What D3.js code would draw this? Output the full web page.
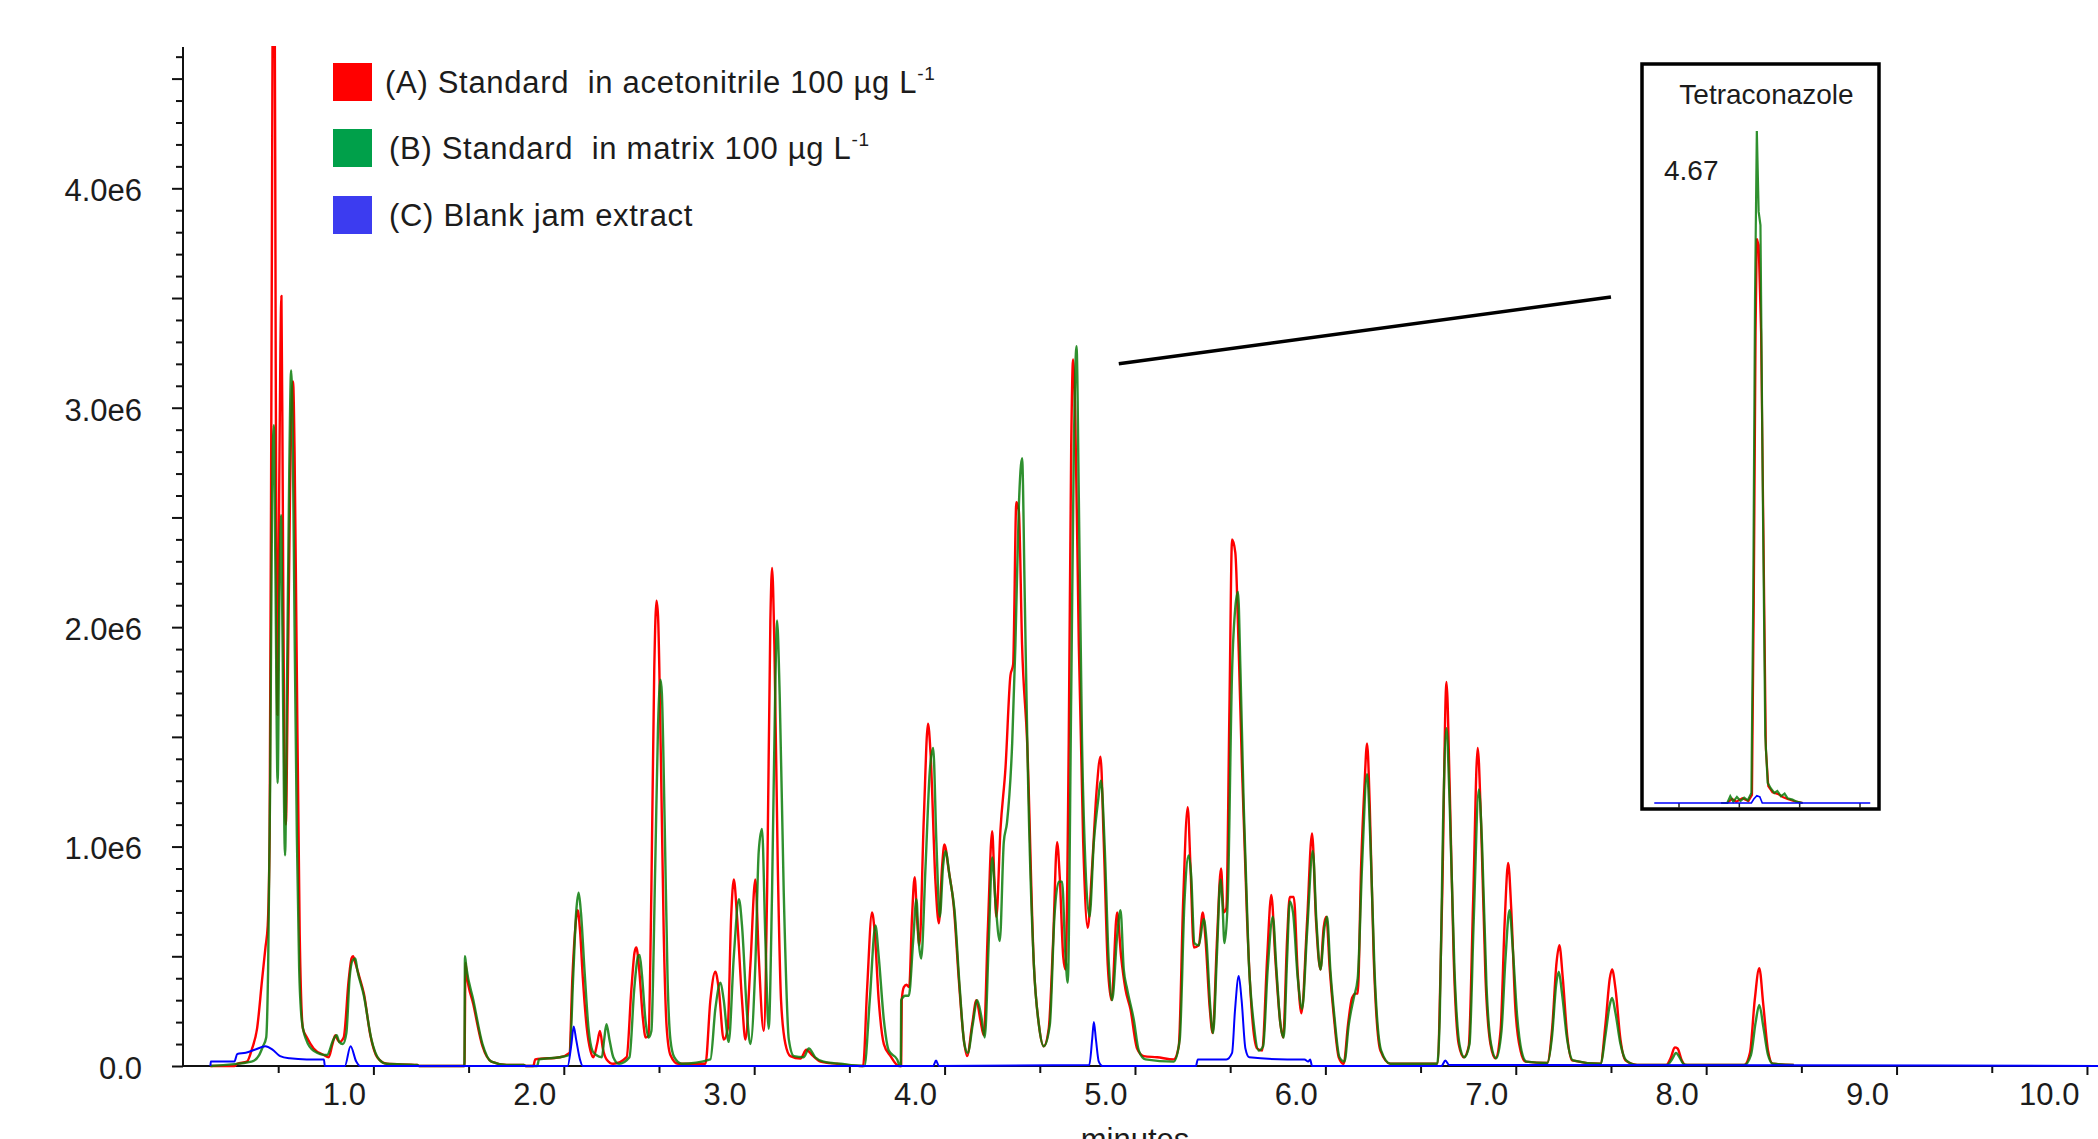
<!DOCTYPE html>
<html>
<head>
<meta charset="utf-8">
<script src="https://cdn.jsdelivr.net/npm/d3@7"></script>
<style>
  html, body { margin: 0; padding: 0; background: #fff; overflow: hidden; }
  text { font-family: "Liberation Sans", Arial, sans-serif; fill: #1c1c1c; }
</style>
</head>
<body>
<svg id="chart" width="2098" height="1139"></svg>
<script>
// Total ion chromatograms: [retention time (min), intensity (x1e6 counts)]
const traceA = [ // standard in acetonitrile, 100 µg/L
  [0.144,0.00],[0.27,0.00],[0.284,0.01],[0.336,0.02],[0.363,0.08],[0.389,0.17],[0.415,0.39],[0.433,0.54],[0.445,0.64],
  [0.455,1.05],[0.466,3.5],[0.474,5.3],[0.48,5.3],[0.487,3.2],[0.496,1.6],[0.505,2.6],[0.517,3.51],[0.524,2.6],
  [0.533,1.3],[0.54,1.1],[0.55,1.7],[0.562,2.6],[0.573,3.08],[0.578,3.12],[0.586,2.8],[0.596,1.96],[0.613,0.60],
  [0.63,0.17],[0.651,0.13],[0.686,0.08],[0.739,0.05],[0.765,0.04],[0.785,0.10],[0.80,0.14],[0.812,0.12],[0.823,0.11],
  [0.844,0.13],[0.87,0.39],[0.885,0.49],[0.893,0.50],[0.905,0.47],[0.925,0.41],[0.95,0.33],[0.984,0.14],[1.02,0.04],
  [1.072,0.01],[1.23,0.005],[1.24,0],[1.478,0],[1.484,0.47],[1.49,0.42],[1.525,0.28],[1.573,0.09],[1.62,0.02],
  [1.70,0.005],[1.79,0.005],[1.80,0],[1.84,0],[1.85,0.03],[1.98,0.04],[2.03,0.06],[2.045,0.40],[2.058,0.60],
  [2.073,0.71],[2.085,0.62],[2.10,0.40],[2.12,0.18],[2.14,0.07],[2.155,0.04],[2.175,0.10],[2.19,0.16],[2.205,0.08],
  [2.225,0.03],[2.26,0.01],[2.33,0.04],[2.355,0.35],[2.372,0.52],[2.381,0.54],[2.395,0.45],[2.415,0.22],[2.43,0.13],
  [2.445,0.14],[2.46,0.80],[2.475,1.80],[2.487,2.12],[2.495,2.05],[2.51,1.40],[2.525,0.60],[2.54,0.18],[2.56,0.05],
  [2.60,0.01],[2.744,0.01],[2.77,0.30],[2.796,0.43],[2.814,0.35],[2.84,0.12],[2.861,0.17],[2.879,0.68],[2.893,0.85],
  [2.91,0.68],[2.936,0.30],[2.954,0.12],[2.98,0.46],[3.006,0.85],[3.024,0.50],[3.05,0.16],[3.068,0.80],[3.085,2.03],
  [3.094,2.27],[3.106,1.92],[3.124,0.91],[3.141,0.30],[3.164,0.10],[3.19,0.045],[3.243,0.034],[3.274,0.074],
  [3.304,0.05],[3.348,0.02],[3.435,0.01],[3.567,0.0],[3.572,0.0],[3.593,0.35],[3.619,0.70],[3.632,0.62],[3.654,0.30],
  [3.681,0.10],[3.716,0.045],[3.76,0.0],[3.772,0.0],[3.775,0.30],[3.786,0.36],[3.80,0.37],[3.814,0.36],[3.829,0.68],
  [3.843,0.86],[3.856,0.66],[3.868,0.55],[3.891,1.13],[3.913,1.56],[3.926,1.43],[3.952,0.84],[3.97,0.65],[3.987,0.91],
  [3.999,1.01],[4.022,0.89],[4.048,0.73],[4.075,0.39],[4.101,0.12],[4.118,0.045],[4.145,0.19],[4.167,0.30],
  [4.188,0.21],[4.206,0.14],[4.227,0.62],[4.25,1.07],[4.262,0.84],[4.272,0.68],[4.293,1.07],[4.32,1.36],[4.346,1.78],
  [4.36,1.83],[4.377,2.57],[4.39,2.53],[4.407,1.92],[4.434,1.47],[4.469,0.46],[4.495,0.19],[4.521,0.09],[4.547,0.17],
  [4.57,0.57],[4.591,1.02],[4.605,0.86],[4.623,0.50],[4.635,0.44],[4.652,1.47],[4.665,2.82],[4.675,3.22],[4.687,2.93],
  [4.705,1.92],[4.728,1.02],[4.752,0.63],[4.775,0.91],[4.798,1.25],[4.819,1.41],[4.836,1.02],[4.857,0.46],[4.877,0.30],
  [4.906,0.70],[4.927,0.50],[4.95,0.35],[4.976,0.26],[5.011,0.08],[5.046,0.045],[5.116,0.04],[5.204,0.03],[5.23,0.09],
  [5.253,0.75],[5.277,1.18],[5.291,0.92],[5.309,0.54],[5.335,0.55],[5.356,0.70],[5.37,0.58],[5.393,0.26],[5.408,0.15],
  [5.431,0.58],[5.452,0.90],[5.466,0.70],[5.48,0.72],[5.496,1.62],[5.51,2.40],[5.527,2.34],[5.545,1.89],[5.562,1.36],
  [5.589,0.66],[5.615,0.23],[5.641,0.08],[5.668,0.07],[5.694,0.49],[5.716,0.78],[5.737,0.49],[5.764,0.19],[5.778,0.13],
  [5.799,0.58],[5.813,0.77],[5.834,0.77],[5.855,0.42],[5.874,0.24],[5.904,0.66],[5.93,1.06],[5.951,0.66],[5.974,0.44],
  [5.991,0.63],[6.005,0.68],[6.023,0.44],[6.044,0.23],[6.07,0.04],[6.096,0.01],[6.119,0.19],[6.14,0.31],[6.158,0.33],
  [6.17,0.33],[6.188,0.92],[6.205,1.27],[6.219,1.47],[6.233,1.19],[6.254,0.49],[6.289,0.07],[6.342,0.01],[6.587,0.01],
  [6.613,0.75],[6.636,1.75],[6.653,1.27],[6.674,0.49],[6.70,0.10],[6.727,0.04],[6.753,0.09],[6.776,0.75],[6.80,1.45],
  [6.818,1.10],[6.841,0.40],[6.867,0.10],[6.893,0.035],[6.92,0.16],[6.942,0.66],[6.96,0.925],[6.976,0.72],[6.998,0.26],
  [7.025,0.07],[7.051,0.02],[7.165,0.014],[7.191,0.17],[7.214,0.47],[7.229,0.55],[7.247,0.40],[7.27,0.14],[7.296,0.026],
  [7.445,0.01],[7.471,0.19],[7.494,0.40],[7.506,0.44],[7.524,0.35],[7.55,0.12],[7.576,0.026],[7.637,0.005],[7.79,0.005],
  [7.815,0.04],[7.835,0.085],[7.85,0.08],[7.87,0.03],[7.89,0.005],[8.20,0.005],[8.23,0.06],[8.255,0.30],[8.279,0.446],
  [8.30,0.28],[8.325,0.07],[8.35,0.01],[8.46,0.005]
];

const traceB = [ // standard in matrix, 100 µg/L
  [0.144,0.00],[0.36,0.02],[0.40,0.05],[0.42,0.09],[0.437,0.13],[0.447,0.44],[0.458,1.3],[0.468,2.6],[0.477,2.92],
  [0.485,2.3],[0.497,1.29],[0.507,2.2],[0.515,2.51],[0.522,2.0],[0.536,0.96],[0.547,1.8],[0.558,2.7],[0.568,3.17],
  [0.576,2.9],[0.586,2.0],[0.598,1.05],[0.61,0.45],[0.625,0.20],[0.647,0.12],[0.686,0.07],[0.756,0.05],[0.79,0.12],
  [0.807,0.14],[0.82,0.11],[0.84,0.10],[0.858,0.15],[0.875,0.40],[0.89,0.48],[0.905,0.49],[0.915,0.44],[0.95,0.32],
  [0.99,0.12],[1.03,0.03],[1.07,0.01],[1.23,0.005],[1.24,0],[1.478,0],[1.481,0.50],[1.488,0.45],[1.525,0.30],
  [1.573,0.10],[1.62,0.02],[1.70,0.005],[1.79,0.005],[1.80,0],[1.86,0],[1.87,0.03],[1.98,0.04],[2.03,0.05],[2.05,0.42],
  [2.065,0.70],[2.078,0.79],[2.09,0.70],[2.11,0.42],[2.13,0.17],[2.15,0.07],[2.17,0.05],[2.20,0.04],[2.212,0.12],
  [2.224,0.19],[2.24,0.12],[2.26,0.04],[2.29,0.01],[2.345,0.04],[2.37,0.35],[2.39,0.50],[2.398,0.506],[2.41,0.42],
  [2.43,0.20],[2.445,0.13],[2.46,0.16],[2.48,0.90],[2.495,1.55],[2.508,1.76],[2.515,1.70],[2.53,1.10],[2.545,0.40],
  [2.56,0.12],[2.58,0.04],[2.62,0.01],[2.77,0.03],[2.796,0.26],[2.823,0.38],[2.84,0.30],[2.866,0.11],[2.893,0.50],
  [2.92,0.76],[2.936,0.64],[2.963,0.23],[2.98,0.10],[3.006,0.46],[3.024,0.98],[3.041,1.08],[3.059,0.57],[3.076,0.17],
  [3.094,0.80],[3.111,1.74],[3.12,2.03],[3.134,1.69],[3.155,0.80],[3.182,0.12],[3.208,0.045],[3.26,0.04],[3.287,0.08],
  [3.32,0.04],[3.365,0.02],[3.453,0.01],[3.57,0.0],[3.579,0.0],[3.607,0.30],[3.637,0.64],[3.654,0.50],[3.681,0.21],
  [3.707,0.07],[3.751,0.03],[3.766,0.0],[3.770,0.0],[3.772,0.30],[3.794,0.32],[3.812,0.32],[3.835,0.57],[3.852,0.76],
  [3.864,0.57],[3.877,0.49],[3.90,0.91],[3.922,1.34],[3.94,1.45],[3.957,1.02],[3.975,0.68],[3.992,0.91],[4.005,0.98],
  [4.027,0.86],[4.052,0.71],[4.08,0.35],[4.104,0.10],[4.122,0.06],[4.148,0.19],[4.171,0.30],[4.192,0.23],[4.211,0.13],
  [4.232,0.57],[4.25,0.95],[4.267,0.75],[4.29,0.57],[4.311,1.02],[4.328,1.11],[4.355,1.47],[4.372,1.92],[4.39,2.55],
  [4.407,2.77],[4.421,2.14],[4.437,1.36],[4.469,0.46],[4.495,0.19],[4.521,0.09],[4.553,0.19],[4.577,0.68],[4.60,0.84],
  [4.617,0.84],[4.635,0.50],[4.647,0.38],[4.665,1.69],[4.679,2.82],[4.693,3.28],[4.705,2.59],[4.722,1.47],[4.74,0.91],
  [4.761,0.68],[4.784,1.02],[4.805,1.20],[4.822,1.30],[4.84,1.02],[4.863,0.46],[4.88,0.30],[4.906,0.59],[4.924,0.71],
  [4.941,0.44],[4.959,0.35],[4.994,0.21],[5.02,0.07],[5.055,0.03],[5.204,0.02],[5.235,0.12],[5.26,0.75],[5.282,0.96],
  [5.295,0.87],[5.312,0.56],[5.335,0.55],[5.361,0.67],[5.375,0.58],[5.396,0.26],[5.41,0.15],[5.431,0.52],[5.449,0.85],
  [5.459,0.75],[5.47,0.56],[5.487,0.75],[5.51,1.80],[5.527,2.09],[5.541,2.16],[5.554,1.80],[5.571,1.19],[5.597,0.49],
  [5.624,0.19],[5.65,0.07],[5.673,0.09],[5.697,0.44],[5.724,0.68],[5.743,0.44],[5.764,0.19],[5.781,0.13],[5.799,0.49],
  [5.813,0.75],[5.83,0.70],[5.855,0.40],[5.878,0.26],[5.904,0.61],[5.934,0.98],[5.953,0.66],[5.974,0.44],[5.995,0.63],
  [6.009,0.68],[6.026,0.44],[6.047,0.23],[6.074,0.04],[6.10,0.02],[6.123,0.19],[6.149,0.31],[6.17,0.40],[6.193,0.92],
  [6.219,1.33],[6.237,1.01],[6.258,0.44],[6.293,0.07],[6.342,0.01],[6.587,0.01],[6.601,0.23],[6.618,1.10],[6.636,1.54],
  [6.653,1.19],[6.678,0.44],[6.706,0.09],[6.73,0.04],[6.757,0.10],[6.779,0.66],[6.806,1.26],[6.823,1.01],[6.846,0.37],
  [6.87,0.10],[6.897,0.035],[6.925,0.16],[6.946,0.49],[6.967,0.71],[6.984,0.54],[7.007,0.23],[7.03,0.07],[7.056,0.02],
  [7.165,0.014],[7.191,0.14],[7.212,0.37],[7.226,0.43],[7.243,0.33],[7.27,0.12],[7.30,0.026],[7.445,0.01],[7.471,0.14],
  [7.494,0.28],[7.506,0.31],[7.524,0.24],[7.55,0.10],[7.58,0.026],[7.637,0.005],[7.795,0.005],[7.82,0.03],[7.842,0.059],
  [7.86,0.04],[7.88,0.01],[7.90,0.005],[8.20,0.005],[8.235,0.05],[8.26,0.20],[8.279,0.278],[8.30,0.18],[8.325,0.05],
  [8.35,0.01],[8.46,0.005]
];

const traceC = [ // blank jam extract
  [0.144,0.0],[0.146,0.02],[0.27,0.02],[0.285,0.055],[0.33,0.06],[0.38,0.075],[0.433,0.09],[0.47,0.075],[0.51,0.045],
  [0.56,0.035],[0.65,0.03],[0.74,0.03],[0.745,0.0],[0.85,0.0],[0.88,0.09],[0.91,0.02],[0.93,0.0],[2.02,0.0],[2.04,0.10],
  [2.052,0.18],[2.065,0.12],[2.085,0.03],[2.10,0.0],[3.94,0.0],[3.955,0.025],[3.97,0.0],[4.76,0.005],[4.775,0.12],
  [4.784,0.20],[4.795,0.12],[4.81,0.02],[4.83,0.0],[5.32,0.0],[5.33,0.03],[5.48,0.03],[5.51,0.06],[5.525,0.25],
  [5.545,0.41],[5.56,0.30],[5.58,0.08],[5.60,0.04],[5.80,0.03],[5.89,0.03],[5.91,0.02],[5.92,0.03],[5.93,0.0],[6.61,0.0],
  [6.63,0.025],[6.65,0.005],[6.70,0.005],[10.06,0.0]
];

// Tetraconazole extracted trace around its retention time (relative intensity, %)
const insetA = [
  [4.61,0],[4.62,0],[4.628,0.6],[4.635,0.2],[4.645,0.7],[4.655,0.3],[4.661,1.2],[4.664,30],[4.667,70],[4.669,84],
  [4.672,83],[4.676,70],[4.68,40],[4.684,8],[4.688,2.5],[4.695,1.6],[4.705,1.3],[4.712,0.9],[4.72,0.6],[4.73,0.3],[4.745,0]
];
const insetB = [
  [4.61,0],[4.62,0],[4.625,1.0],[4.63,0.2],[4.636,0.9],[4.642,0.3],[4.648,0.8],[4.654,0.4],[4.66,1.5],[4.663,30],
  [4.666,75],[4.669,100],[4.672,88],[4.675,86],[4.679,45],[4.683,10],[4.687,3],[4.692,2.2],[4.698,1.5],[4.703,1.8],
  [4.709,1.0],[4.715,1.4],[4.72,0.7],[4.728,0.5],[4.735,0.2],[4.745,0]
];
const insetC = [
  [4.499,0],[4.66,0],[4.664,0.6],[4.669,1.1],[4.674,0.9],[4.678,0],[4.857,0]
];

const xTickValues = [1,2,3,4,5,6,7,8,9,10];
const xTickLabels = ["1.0","2.0","3.0","4.0","5.0","6.0","7.0","8.0","9.0","10.0"];
const yTickValues = [0,1,2,3,4];
const yTickLabels = ["0.0","1.0e6","2.0e6","3.0e6","4.0e6"];
const seriesNames = ["(A) Standard  in acetonitrile 100 µg L", "(B) Standard  in matrix 100 µg L", "(C) Blank jam extract"];
const seriesUnits = ["-1", "-1", ""];
const seriesColors = ["#ff0000", "#0b7d0b", "#0000ff"];
const legendSwatch = ["#ff0000", "#00a04a", "#3c3cf0"];
const insetTitle = "Tetraconazole";
const insetRT = "4.67";

// ---- layout ----
const svg = d3.select("#chart");
const plot = { left: 183, right: 2098, top: 47, bottom: 1066 };
const font = '"Liberation Sans", Arial, sans-serif';

const x = d3.scaleLinear().domain([0, 10.058]).range([plot.left, plot.right]);
const y = d3.scaleLinear().domain([0, 4.644]).range([plot.bottom, plot.top]);

svg.append("rect").attr("width", 2098).attr("height", 1139).attr("fill", "#fff");

svg.append("defs").append("clipPath").attr("id", "plotClip")
  .append("rect")
  .attr("x", plot.left).attr("y", plot.top - 1)
  .attr("width", plot.right - plot.left).attr("height", plot.bottom - plot.top + 4);

// axis lines
svg.append("line")
  .attr("x1", plot.left).attr("x2", plot.right)
  .attr("y1", plot.bottom).attr("y2", plot.bottom)
  .attr("stroke", "#111").attr("stroke-width", 2);
svg.append("line")
  .attr("x1", plot.left).attr("x2", plot.left)
  .attr("y1", plot.top).attr("y2", plot.bottom)
  .attr("stroke", "#111").attr("stroke-width", 2);

// x axis ticks & labels
const xMajor = svg.append("g").attr("transform", `translate(0,${plot.bottom})`)
  .call(d3.axisBottom(x).tickValues(xTickValues).tickFormat((d, i) => xTickLabels[i]).tickSize(9));
xMajor.select(".domain").remove();
xMajor.selectAll("line").attr("stroke", "#111").attr("stroke-width", 2);
xMajor.selectAll("text")
  .attr("text-anchor", "end").attr("x", -8).attr("y", 39).attr("dy", null)
  .attr("font-family", font).attr("font-size", 31).attr("fill", "#1c1c1c");

const xMinor = svg.append("g").attr("transform", `translate(0,${plot.bottom})`)
  .call(d3.axisBottom(x).tickValues(d3.range(0.5, 10, 1)).tickFormat("").tickSize(7));
xMinor.select(".domain").remove();
xMinor.selectAll("line").attr("stroke", "#111").attr("stroke-width", 2);

svg.append("text")
  .attr("x", x(5.0)).attr("y", 1150)
  .attr("text-anchor", "middle")
  .attr("font-size", 31)
  .text("minutes");

// y axis ticks & labels
const yMajor = svg.append("g").attr("transform", `translate(${plot.left},0)`)
  .call(d3.axisLeft(y).tickValues(d3.range(0, 4.6, 0.5))
    .tickFormat(d => { const i = yTickValues.indexOf(d); return i >= 0 ? yTickLabels[i] : ""; })
    .tickSize(11).tickPadding(30));
yMajor.select(".domain").remove();
yMajor.selectAll("line").attr("stroke", "#111").attr("stroke-width", 2);
yMajor.selectAll("text")
  .attr("dy", "0.4em")
  .attr("font-family", font).attr("font-size", 31).attr("fill", "#1c1c1c");

const yMinor = svg.append("g").attr("transform", `translate(${plot.left},0)`)
  .call(d3.axisLeft(y).tickValues(d3.range(1, 47).map(i => i / 10).filter(v => Math.abs(v * 2 - Math.round(v * 2)) > 1e-6))
    .tickFormat("").tickSize(7));
yMinor.select(".domain").remove();
yMinor.selectAll("line").attr("stroke", "#111").attr("stroke-width", 2);

// traces
const line = d3.line().x(d => x(d[0])).y(d => y(d[1])).curve(d3.curveMonotoneX);
const traces = svg.append("g").attr("clip-path", "url(#plotClip)");
traces.append("path").datum(traceA)
  .attr("d", line).attr("fill", "none")
  .attr("stroke", seriesColors[0]).attr("stroke-width", 2.4).attr("stroke-linejoin", "round");
traces.append("path").datum(traceB)
  .attr("d", line).attr("fill", "none")
  .attr("stroke", seriesColors[1]).attr("stroke-opacity", 0.85).attr("stroke-width", 2.4).attr("stroke-linejoin", "round");
traces.append("path").datum(traceC)
  .attr("d", line).attr("fill", "none")
  .attr("stroke", seriesColors[2]).attr("stroke-width", 2).attr("stroke-linejoin", "round");

// legend
const legendRows = [63, 129, 196];
const legendTextX = [385, 389, 389];
const legend = svg.append("g");
seriesNames.forEach((name, i) => {
  legend.append("rect")
    .attr("x", 333).attr("y", legendRows[i])
    .attr("width", 39).attr("height", 38)
    .attr("fill", legendSwatch[i]);
  const t = legend.append("text")
    .attr("x", legendTextX[i]).attr("y", legendRows[i] + 30)
    .attr("font-size", 31)
    .attr("letter-spacing", 0.7)
    .style("white-space", "pre");
  t.append("tspan").text(name);
  if (seriesUnits[i]) {
    t.append("tspan").attr("dy", -13).attr("font-size", 19).text(seriesUnits[i]);
  }
});

// inset: zoom on the tetraconazole peak
const box = { left: 1642, right: 1879, top: 64, bottom: 809 };
const ix = d3.scaleLinear().domain([4.54, 4.84]).range([1679, 1860]);
const iy = d3.scaleLinear().domain([0, 100]).range([803, 131]);

// leader from the peak cluster to the inset
const leaderFrom = [4.915, 3.20], leaderTo = [7.50, 3.505];
svg.append("line")
  .attr("x1", x(leaderFrom[0])).attr("y1", y(leaderFrom[1]))
  .attr("x2", x(leaderTo[0])).attr("y2", y(leaderTo[1]))
  .attr("stroke", "#000").attr("stroke-width", 3.5);

svg.append("rect")
  .attr("x", box.left).attr("y", box.top)
  .attr("width", box.right - box.left).attr("height", box.bottom - box.top)
  .attr("fill", "#fff").attr("stroke", "#000").attr("stroke-width", 3.5);

const inset = svg.append("g");
inset.selectAll("line.itick").data([4.54, 4.64, 4.74, 4.84]).join("line")
  .attr("class", "itick")
  .attr("x1", d => ix(d)).attr("x2", d => ix(d))
  .attr("y1", iy(0)).attr("y2", iy(0) + 5)
  .attr("stroke", "#222").attr("stroke-width", 1.5);
const iline = d3.line().x(d => ix(d[0])).y(d => iy(d[1]));
inset.append("path").datum(insetA).attr("d", iline).attr("fill", "none")
  .attr("stroke", seriesColors[0]).attr("stroke-width", 2.2);
inset.append("path").datum(insetB).attr("d", iline).attr("fill", "none")
  .attr("stroke", seriesColors[1]).attr("stroke-opacity", 0.85).attr("stroke-width", 2.2);
inset.append("path").datum(insetC).attr("d", iline).attr("fill", "none")
  .attr("stroke", seriesColors[2]).attr("stroke-width", 1.6);

inset.append("text")
  .attr("x", (box.left + box.right) / 2 + 6).attr("y", 104)
  .attr("text-anchor", "middle").attr("font-size", 28)
  .text(insetTitle);
inset.append("text")
  .attr("x", 1664).attr("y", 180)
  .attr("font-size", 28)
  .text(insetRT);
</script>
</body>
</html>
